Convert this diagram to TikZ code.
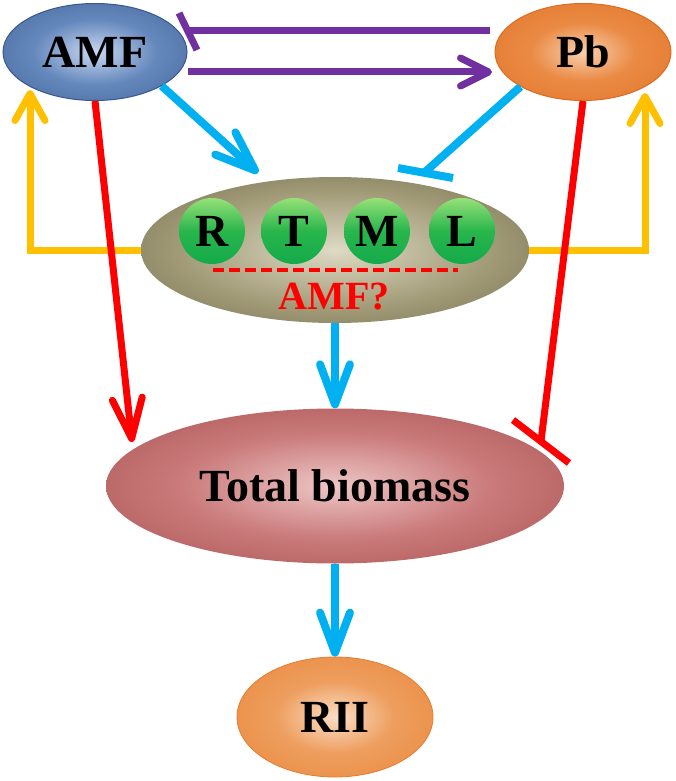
\documentclass[tikz,border=0pt]{standalone}
\usepackage{fontspec}
\setmainfont{Liberation Serif}
\usetikzlibrary{shapes.geometric,arrows.meta}
\definecolor{cpurple}{RGB}{112,48,160}
\definecolor{cblue}{RGB}{0,176,240}
\definecolor{cyellow}{RGB}{255,192,0}
\definecolor{cred}{RGB}{255,0,0}
\definecolor{amfin}{RGB}{200,216,240}
\definecolor{amfmid}{RGB}{100,135,188}
\definecolor{amfout}{RGB}{55,88,140}
\definecolor{pbin}{RGB}{248,208,175}
\definecolor{pbmid}{RGB}{234,138,68}
\definecolor{pbout}{RGB}{222,108,30}
\definecolor{cenin}{RGB}{222,218,196}
\definecolor{cenmid}{RGB}{162,155,120}
\definecolor{cenout}{RGB}{90,85,55}
\definecolor{tbin}{RGB}{238,198,198}
\definecolor{tbmid}{RGB}{202,122,122}
\definecolor{tbout}{RGB}{152,60,60}
\definecolor{riiin}{RGB}{250,222,198}
\definecolor{riimid}{RGB}{238,158,94}
\definecolor{riiout}{RGB}{230,125,45}
\definecolor{balltop}{RGB}{150,225,120}
\definecolor{ballmid}{RGB}{40,182,76}
\definecolor{ballbot}{RGB}{20,170,75}
\pgfdeclareradialshading{amfshade}{\pgfpoint{0bp}{0bp}}{color(0bp)=(amfin); color(17bp)=(amfmid); color(46bp)=(amfout); color(50bp)=(amfout)}
\pgfdeclareradialshading{pbshade}{\pgfpoint{0bp}{0bp}}{color(0bp)=(pbin); color(15bp)=(pbmid); color(46bp)=(pbout); color(50bp)=(pbout)}
\pgfdeclareradialshading{censhade}{\pgfpoint{0bp}{0bp}}{color(0bp)=(cenin); color(20bp)=(cenmid); color(46bp)=(cenout); color(50bp)=(cenout)}
\pgfdeclareradialshading{tbshade}{\pgfpoint{0bp}{0bp}}{color(0bp)=(tbin); color(17bp)=(tbmid); color(46bp)=(tbout); color(50bp)=(tbout)}
\pgfdeclareradialshading{riishade}{\pgfpoint{0bp}{0bp}}{color(0bp)=(riiin); color(15bp)=(riimid); color(46bp)=(riiout); color(50bp)=(riiout)}
\tikzset{
  ell/.style={ellipse, inner sep=0pt, font=\fontsize{46}{50}\selectfont\bfseries},
  ballnode/.style={circle, minimum size=66pt, inner sep=0pt, top color=balltop, bottom color=ballbot, middle color=ballmid, font=\fontsize{46}{50}\selectfont\bfseries},
  conn/.style={line width=7pt},
  bluec/.style={conn, cblue, line width=8pt},
  barline/.style={line cap=butt}
}
\begin{document}
\begin{tikzpicture}[x=1pt,y=-1pt]
\useasboundingbox (0,0) rectangle (675,781);
% nodes
\node[ell, shading=amfshade, draw=amfout, line width=1pt, minimum width=184pt, minimum height=97pt] (amf) at (95,52) {AMF};
\node[ell, shading=pbshade, draw=pbout, line width=1pt, minimum width=176pt, minimum height=97pt] (pb) at (583,52) {Pb};
\node[ell, shading=censhade, minimum width=388pt, minimum height=146pt] (cen) at (335,250) {};
\node[ell, shading=tbshade, minimum width=458pt, minimum height=155pt] (tb) at (335,486) {Total biomass};
\node[ell, shading=riishade, draw=riiout, line width=0.8pt, minimum width=196pt, minimum height=120pt] (rii) at (335,717) {RII};
\node[ballnode] (br) at (212,231) {R};
\node[ballnode] (bt) at (294,231) {T};
\node[ballnode] (bm) at (377,231) {M};
\node[ballnode] (bl) at (462,231) {L};
\coordinate (dl) at (213,270);
\coordinate (dr) at (458,270);
\draw[cred, line width=4pt, dash pattern=on 11pt off 5pt] (dl) -- (dr);
\node[font=\fontsize{40}{44}\selectfont\bfseries, text=cred] (q) at (334,297) {AMF?};
% coordinates
\coordinate (p1s) at (490,31);
\coordinate (p1e) at (190,31);
\coordinate (p1a) at (179,13);
\coordinate (p1b) at (197,50);
\coordinate (p2s) at (188,72);
\coordinate (p2e) at (492,72);
\coordinate (b1e) at (258,173);
\coordinate (b2e) at (425,172);
\coordinate (b2a) at (398,168);
\coordinate (b2b) at (453,178);
\coordinate (rle) at (132,442);
\coordinate (rre) at (541,441);
\coordinate (rra) at (513,420);
\coordinate (rrb) at (569,463);
\coordinate (yl) at (30,90);
\coordinate (yr) at (645,93);
% purple
\draw[conn, cpurple] (p1s) -- (p1e);
\draw[conn, cpurple, barline] (p1a) -- (p1b);
\draw[conn, cpurple, -{Straight Barb[length=28pt, width=28pt, round]}] (p2s) -- (p2e);
% yellow
\draw[conn, cyellow, -{Straight Barb[length=27pt, width=30pt, round]}] (cen.west) -| (yl);
\draw[conn, cyellow, -{Straight Barb[length=27pt, width=30pt, round]}] (cen.east) -| (yr);
% blue
\draw[bluec, -{Straight Barb[length=40pt, width=30pt, round]}] (amf.-27.6) -- (b1e);
\draw[bluec] (pb.209) -- (b2e);
\draw[bluec, barline] (b2a) -- (b2b);
\draw[bluec, -{Straight Barb[length=40pt, width=30pt, round]}] (cen.south) -- (tb.north);
\draw[bluec, -{Straight Barb[length=40pt, width=30pt, round]}] (tb.south) -- (rii.north);
% red
\draw[conn, cred, -{Straight Barb[length=40pt, width=30pt, round]}] (amf.south) -- (rle);
\draw[conn, cred] (pb.south) -- (rre);
\draw[conn, cred, barline] (rra) -- (rrb);
\end{tikzpicture}
\end{document}
